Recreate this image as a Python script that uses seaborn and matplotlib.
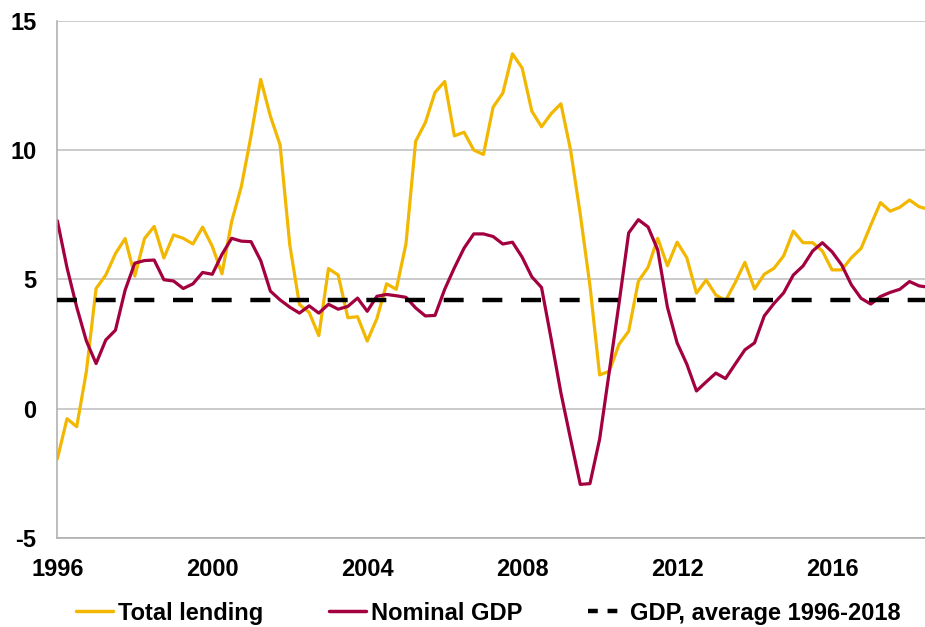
import numpy as np
import pandas as pd
import matplotlib
matplotlib.use("Agg")
import matplotlib.pyplot as plt
import seaborn as sns
from matplotlib.lines import Line2D

# quarterly growth rates, % y/y, 1996Q1 onwards
total_lending = [
    -1.93, -0.38, -0.69, 1.45, 4.65, 5.17, 6.00, 6.58, 5.13, 6.58,
    7.05, 5.83, 6.72, 6.59, 6.37, 7.02, 6.28, 5.22, 7.24, 8.59,
    10.55, 12.73, 11.31, 10.20, 6.34, 4.03, 3.73, 2.83, 5.42, 5.17,
    3.52, 3.56, 2.62, 3.49, 4.83, 4.62, 6.37, 10.34, 11.06, 12.23,
    12.65, 10.55, 10.69, 10.00, 9.83, 11.66, 12.20, 13.72, 13.17, 11.50,
    10.90, 11.41, 11.79, 10.00, 7.52, 4.76, 1.31, 1.45, 2.49, 3.00,
    4.93, 5.47, 6.59, 5.53, 6.44, 5.84, 4.47, 4.98, 4.40, 4.18,
    4.88, 5.66, 4.63, 5.20, 5.43, 5.91, 6.87, 6.42, 6.42, 6.10,
    5.37, 5.37, 5.84, 6.20, 7.10, 7.97, 7.64, 7.79, 8.07, 7.81,
    7.71,
]
nominal_gdp = [
    7.27, 5.45, 3.93, 2.62, 1.75, 2.66, 3.04, 4.59, 5.63, 5.73,
    5.75, 4.99, 4.94, 4.65, 4.83, 5.27, 5.20, 5.97, 6.59, 6.48,
    6.46, 5.73, 4.55, 4.21, 3.93, 3.70, 3.98, 3.70, 4.04, 3.85,
    3.96, 4.28, 3.77, 4.35, 4.42, 4.37, 4.31, 3.90, 3.59, 3.61,
    4.62, 5.45, 6.21, 6.76, 6.76, 6.66, 6.37, 6.44, 5.86, 5.10,
    4.69, 2.69, 0.62, -1.17, -2.92, -2.89, -1.17, 1.45, 4.07, 6.80,
    7.31, 7.03, 6.14, 3.93, 2.55, 1.73, 0.69, 1.04, 1.38, 1.17,
    1.73, 2.28, 2.55, 3.59, 4.07, 4.48, 5.17, 5.52, 6.10, 6.42,
    6.07, 5.56, 4.79, 4.27, 4.05, 4.34, 4.50, 4.62, 4.92, 4.75,
    4.70,
]
gdp_average = 4.21
year_ticks = [1996, 2000, 2004, 2008, 2012, 2016]
series_names = ["Total lending", "Nominal GDP"]
colors = {"Total lending": "#F2B700", "Nominal GDP": "#A3003F"}

quarters = 1996 + np.arange(len(total_lending)) / 4
df = pd.DataFrame({"quarter": quarters,
                   "Total lending": total_lending,
                   "Nominal GDP": nominal_gdp})
long_df = df.melt(id_vars="quarter", var_name="series", value_name="value")

sns.set_style("white")
plt.rcParams["font.family"] = ["Liberation Sans", "DejaVu Sans"]
plt.rcParams["font.weight"] = "bold"
plt.rcParams["axes.unicode_minus"] = False
plt.rcParams["text.color"] = "black"
plt.rcParams["xtick.labelcolor"] = "black"
plt.rcParams["ytick.labelcolor"] = "black"
fs = 17

fig = plt.figure(figsize=(9.25, 6.27), dpi=100)
ax = fig.add_axes([0.062, 0.1416, 0.938, 0.8254])

ax.axhline(gdp_average, color="black", lw=3.2, ls=(0, (4.5, 4.2)), zorder=3)
sns.lineplot(data=long_df, x="quarter", y="value", hue="series",
             hue_order=series_names, palette=colors, lw=2.3,
             legend=False, ax=ax, zorder=2)

ax.set_xlim(1996, 2018.4)
ax.set_ylim(-5, 15)
ax.set_yticks([-5, 0, 5, 10, 15])
ax.set_xticks(year_ticks)
ax.set_xticklabels([str(y) for y in year_ticks])
ax.set_xlabel("")
ax.set_ylabel("")
ax.yaxis.grid(True, color="#BDBDBD", lw=1.1)
ax.set_axisbelow(True)
for s in ["top", "right"]:
    ax.spines[s].set_visible(False)
for s in ["left", "bottom"]:
    ax.spines[s].set_color("#ABABAB")
    ax.spines[s].set_linewidth(1.1)
ax.tick_params(axis="x", length=6, width=1, color="#ABABAB", pad=8,
               labelsize=fs, labelcolor="black", direction="out")
ax.tick_params(axis="y", length=0, pad=15, labelsize=fs, labelcolor="black")
for lab in ax.get_xticklabels() + ax.get_yticklabels():
    lab.set_fontweight("bold")

handles = [
    Line2D([], [], color=colors["Total lending"], lw=2.5),
    Line2D([], [], color=colors["Nominal GDP"], lw=2.5),
    Line2D([], [], color="black", lw=3.2, ls=(0, (2.2, 2.2))),
]
labels = ["Total lending", "Nominal GDP", "GDP, average 1996-2018"]
fig.legend(handles, labels, loc="center", bbox_to_anchor=(0.528, 0.022),
           ncol=3, frameon=False, handlelength=1.57, handletextpad=0.2,
           columnspacing=2.8, labelcolor="black",
           prop={"size": fs, "weight": "bold"})

fig.savefig("out.png", dpi=100)
plt.close(fig)
